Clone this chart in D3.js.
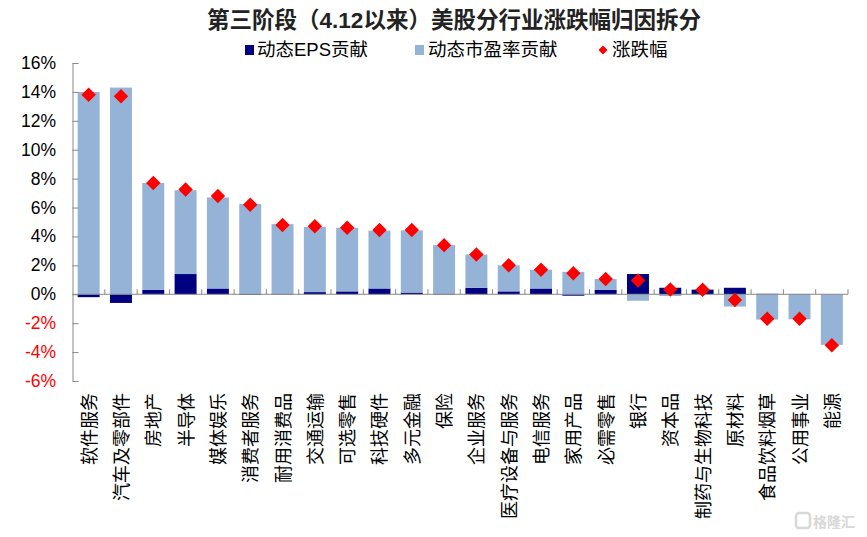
<!DOCTYPE html>
<html>
<head>
<meta charset="utf-8">
<script src="https://cdn.jsdelivr.net/npm/d3@7"></script>
<style>
  body { margin: 0; background: #fff; }
  text { font-family: "Liberation Sans", "Noto Sans CJK SC", sans-serif; }
</style>
</head>
<body>
<script>
// 行业
var industries = ['软件服务','汽车及零部件','房地产','半导体','媒体娱乐','消费者服务','耐用消费品','交通运输',
  '可选零售','科技硬件','多元金融','保险','企业服务','医疗设备与服务','电信服务','家用产品',
  '必需零售','银行','资本品','制药与生物科技','原材料','食品饮料烟草','公用事业','能源'];
// 动态EPS贡献 (%)
var epsValues = [-0.2,-0.6,0.3,1.4,0.4,-0.05,-0.03,0.15,0.2,0.4,0.12,-0.03,0.45,0.2,0.4,-0.1,0.3,1.4,0.45,0.32,0.45,0.03,0.02,0.0];
// 动态市盈率贡献 (%)
var peValues = [14.0,14.3,7.4,5.8,6.3,6.25,4.85,4.5,4.4,4.0,4.3,3.4,2.3,1.8,1.3,1.55,0.75,-0.45,-0.12,0.02,-0.85,-1.75,-1.73,-3.5];
// 涨跌幅 (%)
var changeValues = [13.8,13.7,7.7,7.25,6.8,6.2,4.8,4.7,4.6,4.45,4.45,3.4,2.75,2.0,1.7,1.45,1.05,0.95,0.33,0.32,-0.4,-1.7,-1.7,-3.53];
var yTicks = [-6,-4,-2,0,2,4,6,8,10,12,14,16];

var W = 867, H = 537;
var svg = d3.select('body').append('svg').attr('width', W).attr('height', H);

var x = d3.scaleBand().domain(industries).range([72.5, 848]).paddingInner(0.32).paddingOuter(0.16);
var y = d3.scaleLinear().domain([-6, 16]).range([381, 63]);

var rows = industries.map(function(d, i) { return {name: d, eps: epsValues[i], pe: peValues[i]}; });
var stack = d3.stack().keys(['eps','pe']).offset(d3.stackOffsetDiverging)(rows);
var colors = {eps: '#000080', pe: '#95B3D7'};

// 标题
svg.append('text').attr('x', 454).attr('y', 28).attr('text-anchor', 'middle')
  .attr('font-size', 22.5).attr('font-weight', 'bold').attr('fill', '#222')
  .text('第三阶段（4.12以来）美股分行业涨跌幅归因拆分');

// 图例
var legend = svg.append('g').attr('font-size', 18.5).attr('fill', '#000');
legend.append('rect').attr('x', 245).attr('y', 45).attr('width', 9).attr('height', 10).attr('fill', colors.eps);
legend.append('text').attr('x', 257).attr('y', 56).text('动态EPS贡献');
legend.append('rect').attr('x', 415).attr('y', 45).attr('width', 9).attr('height', 10).attr('fill', colors.pe);
legend.append('text').attr('x', 428).attr('y', 56).text('动态市盈率贡献');
legend.append('path').attr('d', d3.symbol(d3.symbolSquare, 40)()).attr('transform', 'translate(603,50) rotate(45)').attr('fill', '#FF0000');
legend.append('text').attr('x', 612).attr('y', 56).text('涨跌幅');

// 堆叠柱
svg.selectAll('g.series').data(stack).enter().append('g').attr('class', 'series')
  .attr('fill', function(s) { return colors[s.key]; })
  .selectAll('rect').data(function(s) { return s; }).enter().append('rect')
  .attr('x', function(d) { return x(d.data.name); })
  .attr('width', x.bandwidth())
  .attr('y', function(d) { return y(Math.max(d[0], d[1])); })
  .attr('height', function(d) { return Math.abs(y(d[0]) - y(d[1])); });

// y 轴
var yAxis = svg.append('g').attr('transform', 'translate(72.5,0)')
  .call(d3.axisRight(y).tickValues(yTicks).tickSize(6).tickFormat(''));
yAxis.select('.domain').attr('stroke', '#888').attr('d', 'M0.5,' + y(16) + 'V' + y(-6));
yAxis.selectAll('.tick line').attr('stroke', '#888');
svg.append('g').selectAll('text').data(yTicks).enter().append('text')
  .attr('x', 56).attr('y', function(d) { return y(d) + 6; })
  .attr('text-anchor', 'end').attr('font-size', 17.5)
  .attr('fill', function(d) { return d < 0 ? '#FF0000' : '#000'; })
  .text(function(d) { return d + '%'; });

// x 轴 (零线)
var bounds = industries.map(function(d) { return x(d) - x.step() * x.paddingInner() / 2; }).concat([848]);
var xAxis = svg.append('g').attr('transform', 'translate(0,' + y(0) + ')');
xAxis.append('line').attr('x1', 72.5).attr('x2', 848).attr('stroke', '#888');
xAxis.selectAll('line.tk').data(bounds.slice(1)).enter().append('line').attr('class', 'tk')
  .attr('x1', function(d) { return d; }).attr('x2', function(d) { return d; })
  .attr('y1', -5).attr('y2', 0).attr('stroke', '#888');

// 涨跌幅 菱形
svg.selectAll('path.dot').data(changeValues).enter().append('path').attr('class', 'dot')
  .attr('d', d3.symbol(d3.symbolSquare, 105)())
  .attr('transform', function(d, i) { return 'translate(' + (x(industries[i]) + x.bandwidth() / 2) + ',' + y(d) + ') rotate(45)'; })
  .attr('fill', '#FF0000');

// 行业标签
svg.append('g').selectAll('text').data(industries).enter().append('text')
  .attr('transform', function(d) { return 'translate(' + (x(d) + x.bandwidth() / 2 + 7) + ',393) rotate(-90)'; })
  .attr('text-anchor', 'end').attr('font-size', 18).attr('fill', '#000')
  .text(function(d) { return d; });

// 水印
svg.append('text').attr('x', 813).attr('y', 527).attr('font-size', 14).attr('fill', '#d8d8d8').attr('font-weight', 'bold').text('格隆汇');
svg.append('rect').attr('x', 796).attr('y', 513).attr('width', 14).attr('height', 15).attr('rx', 3)
  .attr('fill', 'none').attr('stroke', '#d8d8d8').attr('stroke-width', 2.5);
</script>
</body>
</html>
